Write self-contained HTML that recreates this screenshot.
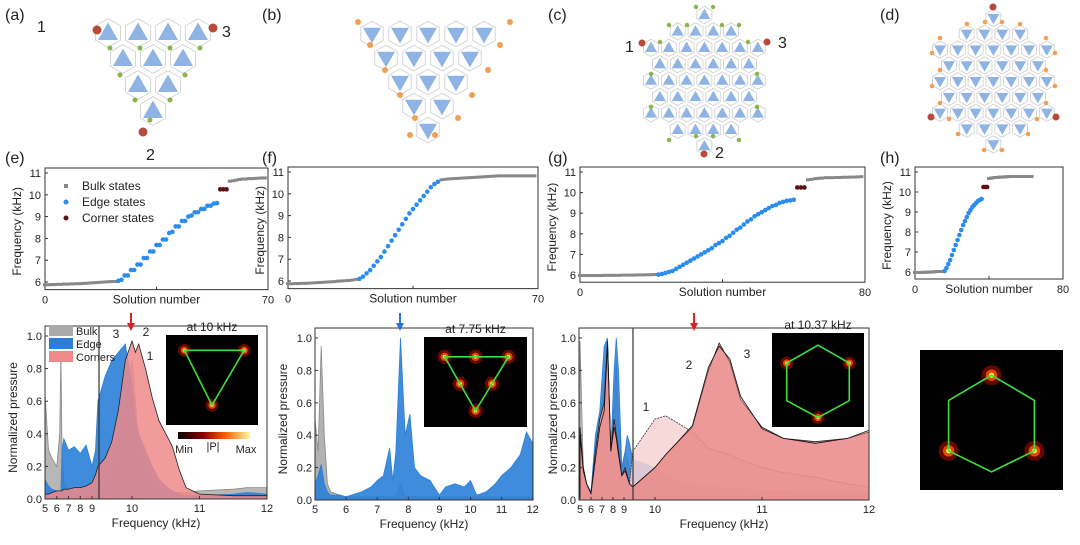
<!DOCTYPE html>
<html><head><meta charset="utf-8"><style>
body{margin:0;background:#fff;width:1080px;height:540px;overflow:hidden}
svg{font-family:"Liberation Sans",sans-serif}
</style></head><body>
<svg id="fig" width="1080" height="540" viewBox="0 0 1080 540">
<g font-size="16" fill="#222">
<text x="5" y="20">(a)</text><text x="262" y="20">(b)</text><text x="548" y="20">(c)</text><text x="880" y="20">(d)</text>
<text x="5" y="163">(e)</text><text x="262" y="163">(f)</text><text x="548" y="163">(g)</text><text x="880" y="163">(h)</text>
</g>
<g font-size="16" fill="#222">
<text x="37" y="32">1</text><text x="222" y="37">3</text><text x="146" y="160">2</text>
<text x="625" y="52">1</text><text x="778" y="48">3</text><text x="715" y="158">2</text>
</g>
<g id="lattices"></g>
<g id="plots"></g>
</svg>
<script>
// ---------- scatter data (frequency in kHz per solution index) ----------
const eBulkLow=[5.85,5.85,5.86,5.86,5.87,5.87,5.88,5.88,5.89,5.89,5.9,5.9,5.91,5.92,5.93,5.94,5.95,5.96,5.97,5.98,5.99,6.0,6.0];
const eEdge=[6.05,6.1,6.3,6.3,6.55,6.55,6.8,6.8,7.1,7.1,7.4,7.4,7.7,7.7,7.95,7.95,8.25,8.3,8.55,8.55,8.8,8.8,9.0,9.05,9.2,9.2,9.35,9.35,9.5,9.5,9.6,9.62];
const eCorner=[10.25,10.25,10.25];
const eBulkHigh=[10.6,10.62,10.65,10.68,10.7,10.7,10.72,10.72,10.73,10.74,10.75,10.75];
const fBulkLow=[5.85,5.85,5.86,5.86,5.87,5.87,5.88,5.89,5.9,5.91,5.92,5.93,5.94,5.95,5.97,5.98,5.99,6.0,6.02,6.05];
const fEdge=[6.1,6.2,6.35,6.5,6.7,6.9,7.1,7.35,7.6,7.85,8.1,8.35,8.6,8.85,9.1,9.3,9.5,9.7,9.9,10.1,10.3,10.45,10.55];
const fBulkHigh=[10.62,10.64,10.66,10.67,10.68,10.69,10.7,10.71,10.72,10.73,10.74,10.75,10.76,10.77,10.78,10.79,10.8,10.8,10.8,10.8,10.8,10.8,10.8,10.8,10.8,10.8,10.8];
const gBulkLow=[5.95,5.95,5.95,5.95,5.95,5.95,5.95,5.96,5.96,5.96,5.96,5.96,5.97,5.97,5.97,5.97,5.98,5.98,5.98,5.99,5.99,6.0];
const gEdge=[6.02,6.05,6.1,6.15,6.2,6.3,6.4,6.5,6.6,6.7,6.8,6.9,7.0,7.1,7.2,7.3,7.45,7.55,7.65,7.8,7.9,8.05,8.2,8.3,8.45,8.6,8.7,8.85,8.95,9.05,9.15,9.25,9.35,9.4,9.5,9.55,9.6,9.62,9.65];
const gCorner=[10.25,10.25,10.25];
const gBulkHigh=[10.6,10.62,10.65,10.67,10.68,10.7,10.7,10.7,10.71,10.71,10.72,10.72,10.73,10.73,10.74,10.75];
const hBulkLow=[5.95,5.95,5.95,5.95,5.96,5.96,5.96,5.97,5.97,5.98,5.98,5.99,6.0,6.0,6.0,6.0];
const hEdge=[6.05,6.2,6.4,6.6,6.85,7.1,7.35,7.6,7.85,8.1,8.35,8.55,8.75,8.95,9.1,9.25,9.35,9.45,9.55,9.6,9.65];
const hCorner=[10.25,10.25,10.25];
const hBulkHigh=[10.65,10.67,10.68,10.7,10.7,10.71,10.72,10.72,10.73,10.73,10.74,10.75,10.75,10.75,10.75,10.75,10.75,10.75,10.75,10.75,10.75,10.75,10.75,10.75];
const yTicks=[6,7,8,9,10,11];

// ---------- spectra data ----------
const eFreq=[5,5.3,5.6,6,6.25,6.35,6.45,6.6,7,7.5,8,8.5,9,9.3,9.5,9.6,9.7,9.8,9.9,10,10.05,10.1,10.2,10.3,10.4,10.5,10.6,10.7,10.8,11,11.5,11.7,12];
const eBulk=[0.65,0.3,0.25,0.2,0.4,0.9,0.3,0.1,0.05,0.04,0.04,0.04,0.04,0.05,0.08,0.1,0.15,0.3,0.6,0.85,0.6,0.3,0.2,0.1,0.06,0.05,0.04,0.04,0.04,0.05,0.06,0.07,0.07];
const eEdgeS=[0.12,0.08,0.06,0.05,0.05,0.05,0.3,0.37,0.3,0.32,0.28,0.33,0.2,0.3,0.6,0.75,0.85,0.9,0.95,0.7,0.5,0.4,0.3,0.2,0.12,0.08,0.05,0.03,0.02,0.02,0.03,0.04,0.03];
const eCorners=[0.03,0.03,0.04,0.05,0.05,0.05,0.05,0.06,0.06,0.07,0.07,0.08,0.1,0.15,0.2,0.25,0.35,0.55,0.85,0.97,0.9,0.95,0.8,0.62,0.48,0.4,0.32,0.18,0.07,0.03,0.02,0.02,0.02];
const fFreq=[5,5.1,5.2,5.3,5.4,5.5,5.8,6,6.5,6.8,7,7.2,7.4,7.5,7.6,7.75,7.9,8.05,8.2,8.4,8.7,9,9.2,9.5,9.8,10,10.2,10.5,10.8,11,11.3,11.6,11.8,12];
const fBulk=[0.5,0.3,0.95,0.4,0.1,0.05,0.03,0.02,0.02,0.02,0.02,0.02,0.02,0.02,0.02,0.1,0.02,0.02,0.02,0.02,0.02,0.02,0.02,0.02,0.02,0.02,0.02,0.02,0.02,0.02,0.02,0.02,0.02,0.02];
const fEdgeS=[0.1,0.15,0.22,0.1,0.05,0.03,0.03,0.02,0.05,0.08,0.12,0.15,0.32,0.12,0.3,1.0,0.4,0.53,0.2,0.15,0.12,0.03,0.08,0.1,0.08,0.12,0.03,0.05,0.1,0.15,0.2,0.28,0.42,0.35];
const gFreq=[5,5.3,5.6,6,6.4,6.8,7.2,7.5,7.8,8.1,8.3,8.5,8.8,9.1,9.3,9.5,9.8,10,10.1,10.2,10.35,10.5,10.6,10.7,10.8,11,11.2,11.5,11.8,12];
const gBulk=[0.98,0.2,0.1,0.05,0.3,0.5,0.7,1.0,0.3,0.6,0.85,0.5,0.2,0.3,0.25,0.2,0.1,0.08,0.07,0.06,0.06,0.05,0.05,0.05,0.05,0.05,0.05,0.05,0.05,0.05];
const gEdgeS=[0.1,0.15,0.1,0.05,0.4,0.55,0.95,1.0,0.3,0.8,1.0,0.8,0.2,0.3,0.4,0.35,0.25,0.2,0.15,0.12,0.1,0.08,0.08,0.07,0.07,0.06,0.06,0.05,0.05,0.05];
const gC1=[0.45,0.2,0.1,0.04,0.3,0.5,0.6,0.98,0.3,0.5,0.4,0.3,0.15,0.2,0.15,0.1,0.3,0.5,0.52,0.48,0.42,0.32,0.3,0.28,0.25,0.2,0.17,0.14,0.1,0.08];
const gC2=[0.45,0.2,0.1,0.04,0.3,0.5,0.6,0.98,0.3,0.5,0.4,0.3,0.15,0.2,0.15,0.1,0.08,0.2,0.28,0.35,0.45,0.8,0.97,0.85,0.62,0.45,0.38,0.36,0.38,0.42];
const gC3=[0.4,0.18,0.1,0.04,0.25,0.45,0.55,0.95,0.3,0.45,0.38,0.28,0.15,0.18,0.14,0.1,0.08,0.2,0.28,0.35,0.46,0.82,0.95,0.87,0.64,0.44,0.38,0.35,0.38,0.43];

const NS="http://www.w3.org/2000/svg";
const svg=document.getElementById('fig');
const plots=document.getElementById('plots');
function mk(tag,attrs,parent){const e=document.createElementNS(NS,tag);for(const k in attrs)e.setAttribute(k,attrs[k]);(parent||plots).appendChild(e);return e;}
function txt(x,y,s,size,anchor,parent,rot){const t=mk('text',{x:x,y:y,'font-size':size,'text-anchor':anchor||'middle',fill:'#222'},parent);if(rot)t.setAttribute('transform',`rotate(-90 ${x} ${y})`);t.textContent=s;return t;}

// ---------- scatter panels ----------
function scatter(name,x0,x1,nMax,y11,y6,sets){
  const g=mk('g',{});
  
  
  const sx=i=>x0+(x1-x0)*i/nMax, sy=f=>y11+(11-f)*(y6-y11)/5;
  const yb=sy(5.65);
  mk('rect',{x:x0,y:y11-5,width:x1-x0,height:yb-y11+5,fill:'none',stroke:'#333','stroke-width':1},g);
  yTicks.forEach(t=>{mk('line',{x1:x0,x2:x0+3,y1:sy(t),y2:sy(t),stroke:'#333'},g);txt(x0-4,sy(t)+4,String(t),11,'end',g);});
  mk('line',{x1:(x0+x1)/2,x2:(x0+x1)/2,y1:yb,y2:yb-3,stroke:'#333'},g);
  txt(x0,yb+14,'0',11,'middle',g);txt(x1,yb+14,String(nMax),11,'middle',g);
  txt((x0+x1)/2,yb+14,'Solution number',12,'middle',g);
  txt(x0-24,(y11+yb)/2,'Frequency (kHz)',12,'middle',g,true);
  let idx=0;
  sets.forEach(([arr,col,shape])=>{
    arr.forEach(v=>{
      const cx=sx(idx),cy=sy(v);
      let m;
      if(shape==='sq') m=mk('rect',{x:cx-2,y:cy-2,width:4,height:3,fill:col},g);
      else m=mk('circle',{cx:cx,cy:cy,r:2.3,fill:col},g);
      
      
      idx++;
    });
  });
  return g;
}
scatter('scatter-e',45,268,70,173,282,[[eBulkLow,'#888','sq'],[eEdge,'#2b8cf0','c'],[eCorner,'#5a1414','c'],[eBulkHigh,'#888','sq']]);
scatter('scatter-f',288,538,70,172,281,[[fBulkLow,'#888','sq'],[fEdge,'#2b8cf0','c'],[fBulkHigh,'#888','sq']]);
scatter('scatter-g',580,865,80,172,275,[[gBulkLow,'#888','sq'],[gEdge,'#2b8cf0','c'],[gCorner,'#5a1414','c'],[gBulkHigh,'#888','sq']]);
scatter('scatter-h',915,1063,80,172,272,[[hBulkLow,'#888','sq'],[hEdge,'#2b8cf0','c'],[hCorner,'#5a1414','c'],[hBulkHigh,'#888','sq']]);
(function(){const g=mk('g',{});
mk('rect',{x:64,y:184,width:4,height:4,fill:'#888'},g);txt(82,190,'Bulk states',12,'start',g);
mk('circle',{cx:66,cy:202,r:2.5,fill:'#2b8cf0'},g);txt(82,206,'Edge states',12,'start',g);
mk('circle',{cx:66,cy:218,r:2.5,fill:'#5a1414'},g);txt(82,222,'Corner states',12,'start',g);})();

// ---------- spectra ----------
function spectrum(name,x0,x1,y0,y1,fx,freq,series,ticks,brk,ylx){
  const g=mk('g',{});
  
  
  const sy=v=>y0-(y0-y1)*v;
  series.forEach(([vals,fill,stroke,op,dash])=>{
    let d=`M${fx(freq[0])},${y0}`;
    freq.forEach((f,i)=>{d+=` L${fx(f).toFixed(1)},${sy(vals[i]).toFixed(1)}`;});
    d+=` L${fx(freq[freq.length-1])},${y0} Z`;
    const p=mk('path',{d:d,fill:fill,'fill-opacity':op,stroke:stroke,'stroke-width':0.8},g);
    if(dash)p.setAttribute('stroke-dasharray',dash);
    
    
  });
  mk('rect',{x:x0,y:y1-10,width:x1-x0,height:y0-y1+10,fill:'none',stroke:'#333'},g);
  if(brk) mk('line',{x1:brk,x2:brk,y1:y1-10,y2:y0,stroke:'#333','stroke-width':1.2},g);
  ticks.forEach(t=>{mk('line',{x1:fx(t),x2:fx(t),y1:y0,y2:y0-3,stroke:'#333'},g);txt(fx(t),y0+13,String(t),11,'middle',g);});
  [0,0.2,0.4,0.6,0.8,1.0].forEach(v=>{mk('line',{x1:x0,x2:x0+3,y1:sy(v),y2:sy(v),stroke:'#333'},g);txt(x0-3,sy(v)+4,v.toFixed(1),11,'end',g);});
  txt((x0+x1)/2,y0+28,'Frequency (kHz)',12,'middle',g);
  txt(ylx,(y0+y1)/2,'Normalized pressure',12,'middle',g,true);
}
function brokenX(x0,xr0,kL,kR,fb,fr){return f=>f<=fb? x0+(f-5)*kL : xr0+(f-fr)*kR;}
const fxE=brokenX(45,132,11.75,67.5,9.5,10);
spectrum('spectrum-e',45,267,499,336,fxE,eFreq,[[eBulk,'#aaa','#888',0.85],[eEdgeS,'#2b7fd8','#2b7fd8',0.9],[eCorners,'#ef8a8a','#222',0.85]],[5,6,7,8,9,10,11,12],99,17);
const fxF=f=>315+(f-5)*31.1;
spectrum('spectrum-f',315,533,500,338,fxF,fFreq,[[fBulk,'#aaa','#888',0.9],[fEdgeS,'#2b7fd8','#2b7fd8',0.9]],[5,6,7,8,9,10,11,12],null,287);
const fxG=brokenX(580,655,11.0,107,9.8,10);
spectrum('spectrum-g',579,869,500,338,fxG,gFreq,[[gBulk,'#aaa','#888',0.7],[gEdgeS,'#2b7fd8','#2b7fd8',0.85],[gC1,'#f6d2d2','#333',0.85,'2,1'],[gC2,'#ec8e8e','#222',0.8],[gC3,'#e88888','#111',0.4]],[5,6,7,8,9,10,11,12],633,557);

(function(){const g=mk('g',{});
[['Bulk','#aaa',327],['Edge','#2b7fd8',340],['Corners','#ef8a8a',353]].forEach(([s,c,y])=>{mk('rect',{x:49,y:y-2,width:24,height:11,fill:c},g);txt(76,y+8,s,11,'start',g);});})();
function arrow(x,y,col){const g=mk('g',{});
mk('line',{x1:x,x2:x,y1:y,y2:y+12,stroke:col,'stroke-width':2},g);mk('path',{d:`M${x-4},${y+10} L${x+4},${y+10} L${x},${y+18}Z`,fill:col},g);}
arrow(131,313,'#d22');arrow(400,313,'#2a74d8');arrow(694,313,'#d22');
txt(116,338,'3',12,'middle');txt(146,336,'2',12,'middle');txt(150,360,'1',12,'middle');
txt(646,411,'1',12,'middle');txt(689,369,'2',12,'middle');txt(747,358,'3',12,'middle');

function inset(name,x,y,w,h,title,pts,poly){
  const g=mk('g',{});
  if(title) txt(x+w/2,y-4,title,12,'middle',g);
  mk('rect',{x:x,y:y,width:w,height:h,fill:'#000'},g);
  pts.forEach(([px,py])=>{const cx=x+px*w,cy=y+py*h;
    mk('circle',{cx:cx,cy:cy,r:w*0.07,fill:'#7a0a00','fill-opacity':0.8},g);
    mk('circle',{cx:cx,cy:cy,r:w*0.04,fill:'#e24a00'},g);
    mk('circle',{cx:cx,cy:cy,r:w*0.018,fill:'#ffe860'},g);});
  mk('polygon',{points:poly.map(([px,py])=>`${x+px*w},${y+py*h}`).join(' '),fill:'none',stroke:'#3ee03e','stroke-width':1.6},g);
}
const tri=[[0.2,0.17],[0.85,0.17],[0.5,0.78]];
inset('heatmap-e',166,335,92,90,'at  10 kHz',tri,tri);
const triD=[[0.2,0.22],[0.82,0.22],[0.5,0.82]];
inset('heatmap-f',424,337,103,90,'at  7.75 kHz',[[0.2,0.22],[0.5,0.22],[0.82,0.22],[0.35,0.52],[0.66,0.52],[0.5,0.82]],triD);
const hexP=[[0.5,0.13],[0.84,0.32],[0.84,0.72],[0.5,0.9],[0.16,0.72],[0.16,0.32]];
inset('heatmap-g',772,333,92,94,'at  10.37 kHz',[[0.16,0.32],[0.84,0.32],[0.5,0.9]],hexP);
const hexH=[[0.5,0.18],[0.8,0.36],[0.8,0.72],[0.5,0.87],[0.2,0.72],[0.2,0.36]];
inset('heatmap-h',920,350,143,140,'',[[0.5,0.18],[0.2,0.72],[0.8,0.72]],hexH);
(function(){const g=mk('g',{});
const d=mk('defs',{},g);const lg=mk('linearGradient',{id:'cb'},d);
[['0','#000'],['0.35','#8a0000'],['0.65','#ff5a00'],['1','#fff8a0']].forEach(([o,c])=>mk('stop',{offset:o,'stop-color':c},lg));
mk('rect',{x:178,y:432,width:72,height:7,fill:'url(#cb)'},g);
txt(184,453,'Min',11,'middle',g);txt(213,450,'|P|',11,'middle',g);txt(246,453,'Max',11,'middle',g);})();

// ---------- lattices ----------
const lat=document.getElementById('lattices');
function latTri(cx,cy,s,up){const h=s*0.87;const p=up?[[cx,cy-h*0.6],[cx-s/2,cy+h*0.4],[cx+s/2,cy+h*0.4]]:[[cx,cy+h*0.6],[cx-s/2,cy-h*0.4],[cx+s/2,cy-h*0.4]];
 const hx=[];for(let k=0;k<6;k++){const a=Math.PI/6+k*Math.PI/3;hx.push(`${cx+s*0.72*Math.cos(a)},${cy+s*0.72*Math.sin(a)}`);}
 mk('polygon',{points:hx.join(' '),fill:'#fff',stroke:'#ccc','stroke-width':0.8},lat);
 const t=mk('polygon',{points:p.map(q=>q.join(',')).join(' '),fill:'#8fb4e3'},lat);
 }
function lattice(rows,x0,y0,dx,dy,s,up){rows.forEach(([off,n],r)=>{for(let i=0;i<n;i++)latTri(x0+(off+i)*dx,y0+r*dy,s,up);});}
lattice([[0,4],[0.5,3],[1,2],[1.5,1]],108,33,30,26,20,true);
lattice([[0,5],[0.5,4],[1,3],[1.5,2],[2,1]],372,34,28,24,18,false);
lattice([[3,1],[1.5,4],[0,7],[0.5,6],[0,7],[0.5,6],[0,7],[1.5,4],[3,1]],651,15,17.8,16.4,12,true);
lattice([[3,1],[1.5,4],[0,7],[0.5,6],[0,7],[0.5,6],[0,7],[1.5,4],[3,1]],940,18,17.8,15.8,12,false);
function dot(x,y,c,r){const d=mk('circle',{cx:x,cy:y,r:r||3,fill:c},lat);}
[[97,30],[213,28],[143,132]].forEach(p=>dot(p[0],p[1],'#b94a3a',4.5));
[[110,48],[140,48],[170,48],[200,48],[120,75],[185,75],[135,100],[170,100],[150,120]].forEach(p=>dot(p[0],p[1],'#8ab34a',2.5));
[[358,22],[510,22],[370,45],[500,45],[385,70],[488,70],[400,95],[472,95],[415,118],[458,118],[410,135],[435,135]].forEach(p=>dot(p[0],p[1],'#f0a050',3));
[[642,43],[767,42],[704,154]].forEach(p=>dot(p[0],p[1],'#b94a3a',3.5));
[[696,7],[713,7],[669,25],[687,25],[722,25],[739,25],[660,42],[748,42],[651,74],[757,74],[651,107],[757,107],[669,140],[739,140],[696,136],[713,136]].forEach(p=>dot(p[0],p[1],'#8ab34a',2.2));
[[993,7],[931,117],[1056,117]].forEach(p=>dot(p[0],p[1],'#b94a3a',3.5));
[[967,24],[985,22],[1002,22],[1020,24],[940,38],[1046,38],[932,53],[1055,53],[940,70],[1046,70],[932,86],[1055,86],[940,103],[1046,103],[949,119],[1037,119],[958,134],[1028,134],[984,150],[1002,150]].forEach(p=>dot(p[0],p[1],'#f0a050',2.3));
</script>
</body></html>
